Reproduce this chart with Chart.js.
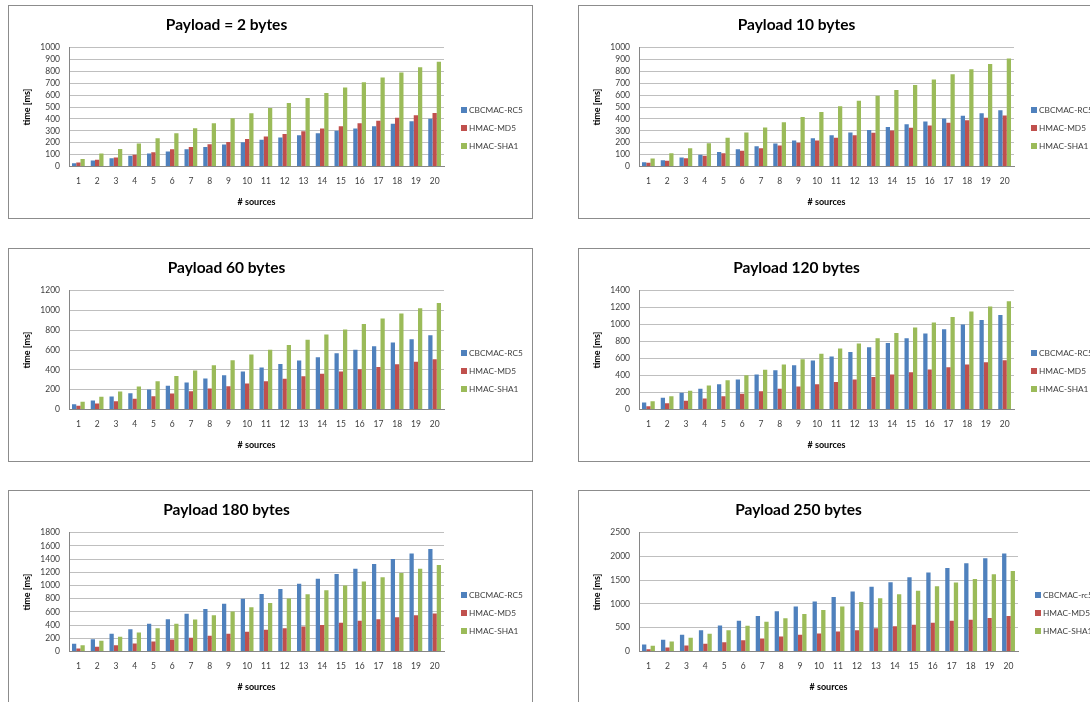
<!DOCTYPE html>
<html>
<head>
  <meta charset="utf-8">
  <title>MAC timing vs sources</title>
  <script src="https://cdn.jsdelivr.net/npm/chart.js@4.4.1/dist/chart.umd.min.js"></script>
  <style>
    body { margin: 0; background: #fff; width: 1090px; height: 702px; overflow: hidden; position: relative; }
    .box { position: absolute; width: 525px; height: 214px; border: 1px solid #8c8c8c; box-sizing: border-box; background: #fff; }
    .box canvas { display: block; }
  </style>
</head>
<body>
  <div class="box" style="left:8px;top:5px"><canvas id="c2" width="523" height="212"></canvas></div>
  <div class="box" style="left:578px;top:5px"><canvas id="c10" width="523" height="212"></canvas></div>
  <div class="box" style="left:8px;top:248px"><canvas id="c60" width="523" height="212"></canvas></div>
  <div class="box" style="left:578px;top:248px"><canvas id="c120" width="523" height="212"></canvas></div>
  <div class="box" style="left:8px;top:490px"><canvas id="c180" width="523" height="212"></canvas></div>
  <div class="box" style="left:578px;top:490px"><canvas id="c250" width="523" height="212"></canvas></div>

  <script>
    // values (time in ms)
    const sources = ['1', '2', '3', '4', '5', '6', '7', '8', '9', '10', '11', '12', '13', '14', '15', '16', '17', '18', '19', '20'];
    const seriesNames = ['CBCMAC-RC5', 'HMAC-MD5', 'HMAC-SHA1'];
    const seriesNames250 = ['CBCMAC-rc5', 'HMAC-MD5', 'HMAC-SHA1'];

    const p2Rc5 = [28, 50, 70, 90, 109, 126, 146, 165, 185, 204, 224, 244, 263, 280, 300, 319, 339, 359, 381, 401];
    const p2Md5 = [34, 56, 76, 98, 120, 146, 165, 188, 207, 232, 252, 274, 297, 319, 339, 364, 384, 409, 431, 451];
    const p2Sha1 = [64, 109, 148, 193, 238, 280, 322, 364, 406, 448, 493, 535, 577, 619, 664, 709, 748, 790, 835, 880];

    const p10Rc5 = [36, 53, 76, 98, 123, 146, 171, 193, 218, 238, 263, 286, 308, 333, 356, 378, 403, 426, 448, 473];
    const p10Md5 = [31, 48, 70, 90, 112, 132, 154, 176, 199, 218, 241, 263, 283, 303, 325, 345, 367, 389, 409, 429];
    const p10Sha1 = [67, 112, 154, 196, 241, 286, 328, 373, 417, 459, 507, 552, 594, 644, 686, 731, 776, 818, 863, 908];

    const p60Rc5 = [54, 91, 131, 165, 202, 239, 272, 313, 346, 383, 424, 460, 494, 528, 568, 602, 639, 676, 709, 750];
    const p60Md5 = [37, 60, 84, 108, 134, 161, 185, 212, 235, 262, 286, 310, 336, 360, 383, 407, 430, 457, 481, 508];
    const p60Sha1 = [77, 128, 182, 232, 286, 339, 393, 447, 497, 555, 602, 652, 703, 756, 807, 864, 918, 968, 1022, 1076];

    const p120Rc5 = [82, 137, 196, 243, 298, 353, 412, 463, 522, 576, 624, 678, 733, 784, 839, 894, 945, 1000, 1055, 1114];
    const p120Md5 = [39, 75, 102, 129, 157, 184, 216, 243, 271, 298, 325, 353, 384, 412, 439, 471, 498, 529, 557, 580];
    const p120Sha1 = [98, 157, 220, 282, 345, 404, 467, 529, 592, 655, 718, 776, 839, 902, 965, 1024, 1090, 1153, 1212, 1275];

    const p180Rc5 = [116, 187, 267, 338, 419, 489, 570, 645, 721, 797, 872, 948, 1024, 1100, 1175, 1251, 1326, 1402, 1483, 1553];
    const p180Md5 = [45, 71, 96, 121, 151, 182, 207, 237, 267, 298, 328, 353, 378, 403, 434, 464, 489, 519, 550, 575];
    const p180Sha1 = [96, 161, 222, 288, 353, 419, 484, 550, 605, 671, 736, 802, 867, 928, 998, 1059, 1124, 1190, 1251, 1311];

    const p250Rc5 = [147, 245, 350, 448, 546, 644, 749, 847, 945, 1050, 1148, 1261, 1359, 1457, 1562, 1660, 1758, 1856, 1961, 2059];
    const p250Md5 = [49, 84, 126, 161, 196, 238, 273, 315, 350, 378, 420, 448, 490, 532, 560, 602, 644, 665, 707, 749];
    const p250Sha1 = [119, 210, 287, 371, 448, 539, 623, 700, 791, 875, 945, 1043, 1120, 1204, 1275, 1373, 1450, 1527, 1625, 1695];

    const colors = ['#4F81BD', '#C0504D', '#9BBB59'];

    Chart.defaults.font.family = 'Lato, "Open Sans", sans-serif';
    Chart.defaults.color = '#404040';

    // legend drawn to the right of the plot, like the spreadsheet one
    const sideLegend = {
      id: 'sideLegend',
      afterDraw(chart) {
        const ctx = chart.ctx;
        const x = chart.chartArea.right + 17;
        ctx.save();
        ctx.font = '8.3px Lato, "Open Sans", sans-serif';
        ctx.textBaseline = 'middle';
        chart.data.datasets.forEach((ds, i) => {
          const y = 104 + i * 18;
          ctx.fillStyle = ds.backgroundColor;
          ctx.fillRect(x, y - 3, 6, 6);
          ctx.fillStyle = '#404040';
          ctx.fillText(ds.label, x + 8, y);
        });
        ctx.restore();
      }
    };

    function makeChart(id, title, names, rc5, md5, sha1, yMax, yStep, padRight) {
      const series = [rc5, md5, sha1];
      return new Chart(document.getElementById(id), {
        type: 'bar',
        data: {
          labels: sources,
          datasets: series.map((d, i) => ({
            label: names[i],
            data: d,
            backgroundColor: colors[i],
            borderWidth: 0,
            categoryPercentage: 0.68,
            barPercentage: 1.0
          }))
        },
        plugins: [sideLegend],
        options: {
          responsive: false,
          animation: false,
          layout: { padding: { left: 0, right: padRight, top: 0, bottom: 0 } },
          plugins: {
            legend: { display: false },
            tooltip: { enabled: false },
            title: {
              display: true,
              text: title,
              color: '#000',
              font: { size: 15.5, weight: 'bold' },
              padding: { top: 10, bottom: 13 }
            }
          },
          scales: {
            x: {
              grid: { display: false, drawTicks: false },
              border: { color: '#868686' },
              ticks: { autoSkip: false, maxRotation: 0, padding: 10, font: { size: 8.5 } },
              title: { display: true, text: '# sources', color: '#000', font: { size: 9, weight: 'bold' }, padding: { top: 8, bottom: 10.6 } },
              afterFit: s => { s.height = 51.5; }
            },
            y: {
              min: 0,
              max: yMax,
              grid: { color: '#bfbfbf', drawTicks: false },
              border: { color: '#868686' },
              ticks: { stepSize: yStep, autoSkip: false, padding: 9, font: { size: 8.5 }, callback: v => String(v) },
              title: { display: true, text: 'time [ms]', color: '#000', font: { size: 9, weight: 'bold' }, padding: { top: 12.6, bottom: 4 } },
              afterFit: s => { s.width = 60; }
            }
          }
        }
      });
    }

    makeChart('c2', 'Payload = 2 bytes', seriesNames, p2Rc5, p2Md5, p2Sha1, 1000, 100, 88);
    makeChart('c10', 'Payload 10 bytes', seriesNames, p10Rc5, p10Md5, p10Sha1, 1000, 100, 88);
    makeChart('c60', 'Payload 60 bytes', seriesNames, p60Rc5, p60Md5, p60Sha1, 1200, 200, 88);
    makeChart('c120', 'Payload 120 bytes', seriesNames, p120Rc5, p120Md5, p120Sha1, 1400, 200, 88);
    makeChart('c180', 'Payload 180 bytes', seriesNames, p180Rc5, p180Md5, p180Sha1, 1800, 200, 88);
    makeChart('c250', 'Payload 250 bytes', seriesNames250, p250Rc5, p250Md5, p250Sha1, 2500, 500, 84);
  </script>
</body>
</html>
